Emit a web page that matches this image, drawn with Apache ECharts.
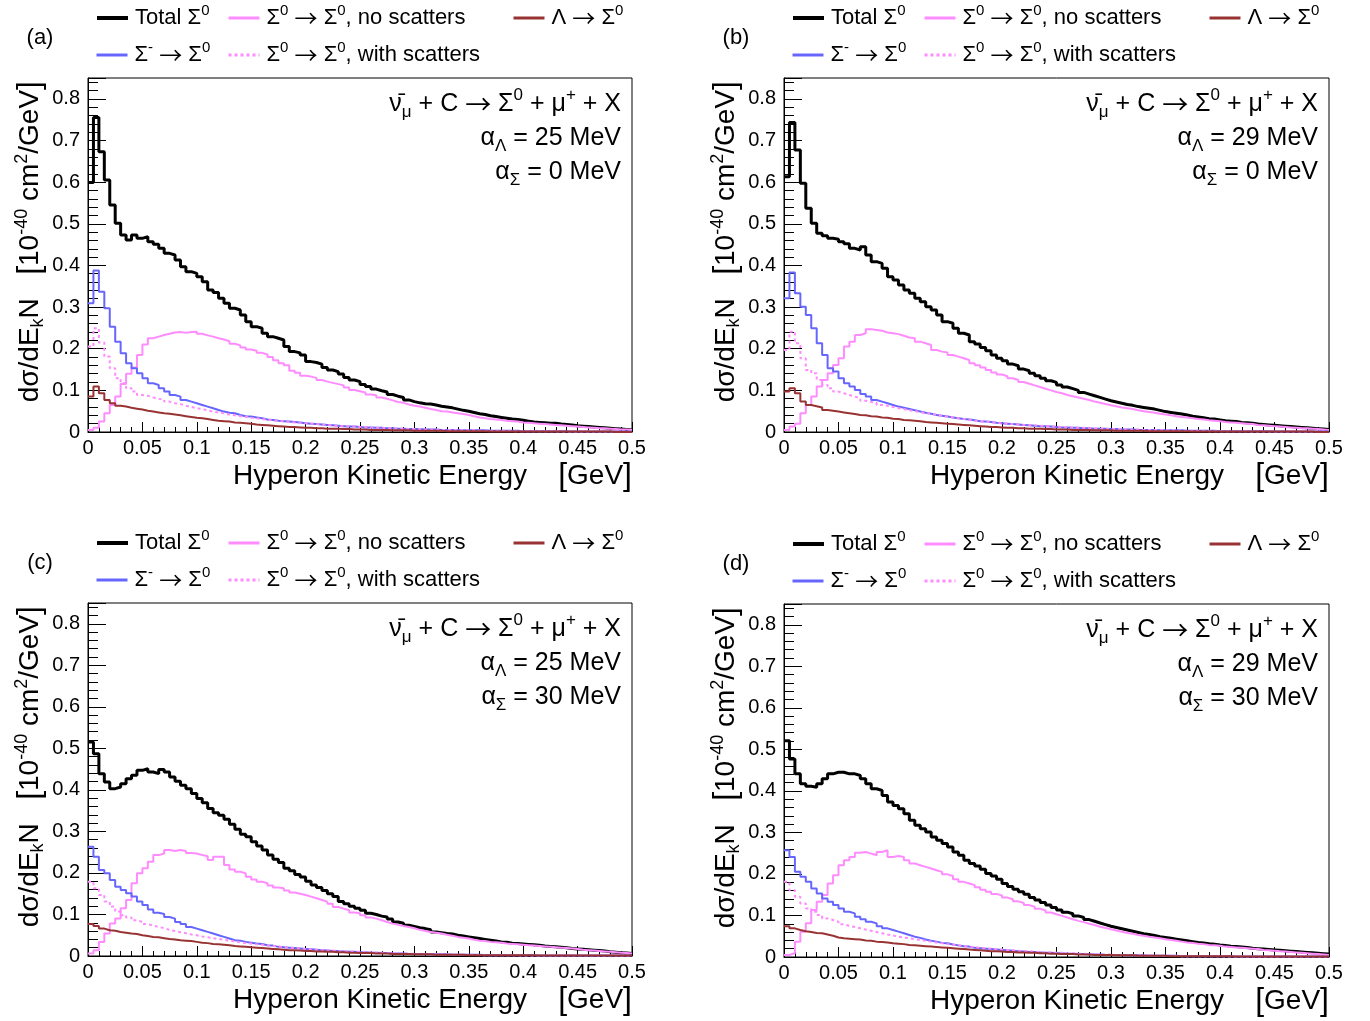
<!DOCTYPE html>
<html>
<head>
<meta charset="utf-8">
<script src="https://cdn.jsdelivr.net/npm/echarts@6/dist/echarts.min.js"></script>
<style>
html,body{margin:0;padding:0;background:#ffffff;}
#chart{width:1370px;height:1021px;}
</style>
</head>
<body>
<div id="chart"></div>
<script>
// ---------------- DATA (histograms: 100 bins from 0 to 0.5 GeV) ----------------
const BIN_WIDTH = 0.005;
const panelLetters = ['a', 'b', 'c', 'd'];
const alphaLambda = [25, 29, 25, 29];
const alphaSigma = [0, 0, 30, 30];
const seriesNames = ['Total Σ0', 'Σ0 → Σ0, no scatters', 'Λ → Σ0', 'Σ- → Σ0', 'Σ0 → Σ0, with scatters'];

// Panel (a)
const A_total = [
0.599,0.755,0.673,0.605,0.545,0.501,0.473,0.461,0.473,0.465,
0.469,0.457,0.451,0.441,0.429,0.425,0.413,0.397,0.385,0.381,
0.373,0.361,0.341,0.335,0.321,0.309,0.297,0.293,0.281,0.265,
0.253,0.249,0.237,0.229,0.225,0.221,0.205,0.193,0.190,0.185,
0.169,0.167,0.163,0.155,0.149,0.145,0.139,0.131,0.125,0.121,
0.114,0.109,0.103,0.099,0.096,0.090,0.086,0.083,0.077,0.073,
0.070,0.068,0.067,0.065,0.062,0.060,0.058,0.055,0.052,0.050,
0.047,0.044,0.042,0.039,0.037,0.035,0.033,0.031,0.030,0.028,
0.026,0.024,0.023,0.022,0.021,0.021,0.019,0.018,0.017,0.015,
0.014,0.013,0.012,0.011,0.010,0.009,0.008,0.007,0.006,0.005];
const A_noScatter = [
0.005,0.010,0.025,0.045,0.065,0.085,0.115,0.140,0.155,0.185,
0.210,0.225,0.229,0.233,0.236,0.239,0.240,0.238,0.240,0.241,
0.236,0.232,0.229,0.225,0.222,0.218,0.212,0.208,0.203,0.198,
0.195,0.190,0.186,0.180,0.172,0.165,0.160,0.147,0.142,0.135,
0.133,0.130,0.125,0.121,0.118,0.115,0.112,0.107,0.101,0.098,
0.095,0.090,0.088,0.083,0.080,0.076,0.072,0.070,0.066,0.063,
0.061,0.058,0.055,0.053,0.050,0.049,0.047,0.045,0.043,0.041,
0.038,0.035,0.033,0.031,0.030,0.029,0.027,0.026,0.025,0.023,
0.022,0.021,0.020,0.019,0.018,0.017,0.016,0.015,0.014,0.013,
0.012,0.011,0.010,0.009,0.009,0.008,0.007,0.006,0.006,0.005];
const A_lambda = [
0.085,0.109,0.093,0.077,0.069,0.063,0.061,0.058,0.056,0.054,
0.051,0.049,0.047,0.045,0.044,0.042,0.040,0.038,0.036,0.034,
0.033,0.031,0.029,0.027,0.026,0.025,0.023,0.022,0.021,0.020,
0.018,0.017,0.016,0.015,0.014,0.013,0.012,0.012,0.011,0.010,
0.010,0.009,0.009,0.008,0.008,0.008,0.007,0.007,0.006,0.006,
0.006,0.005,0.005,0.005,0.005,0.004,0.004,0.004,0.004,0.003,
0.003,0.003,0.003,0.003,0.003,0.002,0.002,0.002,0.002,0.002,
0.002,0.002,0.002,0.001,0.001,0.001,0.001,0.001,0.001,0.001,
0.001,0.001,0.001,0.001,0.001,0.001,0.001,0.001,0.001,0.001,
0.001,0.001,0.001,0.001,0.001,0.001,0.000,0.000,0.000,0.000];
const A_sigmaMinus = [
0.309,0.388,0.337,0.297,0.253,0.217,0.189,0.165,0.153,0.141,
0.129,0.117,0.113,0.105,0.097,0.089,0.085,0.077,0.073,0.069,
0.065,0.061,0.057,0.053,0.049,0.046,0.045,0.041,0.038,0.037,
0.035,0.033,0.030,0.029,0.027,0.026,0.025,0.024,0.023,0.021,
0.020,0.019,0.018,0.017,0.016,0.015,0.014,0.013,0.013,0.012,
0.011,0.011,0.010,0.010,0.009,0.009,0.008,0.008,0.007,0.007,
0.007,0.006,0.006,0.006,0.005,0.005,0.005,0.005,0.004,0.004,
0.004,0.004,0.004,0.003,0.003,0.003,0.003,0.003,0.003,0.002,
0.002,0.002,0.002,0.002,0.002,0.002,0.002,0.002,0.001,0.001,
0.001,0.001,0.001,0.001,0.001,0.001,0.001,0.001,0.001,0.001];
const A_withScatter = [
0.205,0.249,0.215,0.181,0.153,0.129,0.117,0.105,0.097,0.089,
0.087,0.083,0.080,0.078,0.073,0.069,0.067,0.063,0.060,0.057,
0.055,0.052,0.049,0.047,0.045,0.042,0.040,0.038,0.036,0.034,
0.033,0.031,0.030,0.028,0.027,0.026,0.024,0.023,0.022,0.021,
0.020,0.019,0.018,0.017,0.016,0.015,0.014,0.014,0.013,0.012,
0.012,0.011,0.010,0.010,0.009,0.009,0.008,0.008,0.007,0.007,
0.007,0.006,0.006,0.006,0.005,0.005,0.005,0.004,0.004,0.004,
0.004,0.003,0.003,0.003,0.003,0.003,0.003,0.002,0.002,0.002,
0.002,0.002,0.002,0.002,0.002,0.002,0.001,0.001,0.001,0.001,
0.001,0.001,0.001,0.001,0.001,0.001,0.001,0.001,0.001,0.001];

// Panel (b)
const B_total = [
0.613,0.743,0.677,0.597,0.537,0.501,0.477,0.471,0.465,0.463,
0.457,0.452,0.441,0.437,0.445,0.425,0.409,0.405,0.393,0.373,
0.365,0.353,0.341,0.333,0.321,0.313,0.301,0.293,0.281,0.265,
0.261,0.249,0.237,0.233,0.217,0.211,0.203,0.195,0.185,0.177,
0.171,0.163,0.159,0.151,0.147,0.141,0.135,0.129,0.123,0.119,
0.113,0.108,0.104,0.100,0.095,0.091,0.087,0.083,0.079,0.075,
0.072,0.069,0.066,0.064,0.061,0.059,0.057,0.055,0.052,0.049,
0.047,0.045,0.043,0.041,0.038,0.036,0.034,0.032,0.031,0.029,
0.027,0.026,0.025,0.023,0.022,0.021,0.019,0.018,0.017,0.016,
0.015,0.014,0.013,0.012,0.011,0.010,0.009,0.008,0.007,0.006];
const B_noScatter = [
0.005,0.013,0.020,0.045,0.065,0.085,0.109,0.125,0.141,0.161,
0.177,0.205,0.217,0.233,0.237,0.247,0.245,0.243,0.239,0.237,
0.235,0.231,0.227,0.225,0.217,0.213,0.209,0.197,0.193,0.191,
0.185,0.181,0.177,0.173,0.165,0.160,0.155,0.149,0.143,0.138,
0.134,0.129,0.125,0.120,0.116,0.112,0.108,0.104,0.100,0.096,
0.093,0.089,0.086,0.083,0.080,0.077,0.073,0.070,0.067,0.064,
0.062,0.059,0.057,0.055,0.052,0.050,0.048,0.046,0.044,0.042,
0.040,0.038,0.036,0.035,0.033,0.031,0.030,0.028,0.027,0.026,
0.024,0.023,0.022,0.021,0.020,0.019,0.017,0.016,0.015,0.014,
0.013,0.012,0.011,0.010,0.009,0.009,0.008,0.007,0.006,0.005];
const B_lambda = [
0.097,0.105,0.093,0.073,0.065,0.062,0.059,0.053,0.051,0.049,
0.047,0.045,0.043,0.041,0.040,0.038,0.037,0.035,0.034,0.032,
0.031,0.029,0.028,0.027,0.026,0.024,0.023,0.022,0.021,0.020,
0.019,0.018,0.017,0.016,0.015,0.014,0.013,0.012,0.012,0.011,
0.010,0.010,0.009,0.009,0.008,0.008,0.008,0.007,0.007,0.006,
0.006,0.006,0.005,0.005,0.005,0.005,0.004,0.004,0.004,0.004,
0.003,0.003,0.003,0.003,0.003,0.003,0.002,0.002,0.002,0.002,
0.002,0.002,0.002,0.002,0.001,0.001,0.001,0.001,0.001,0.001,
0.001,0.001,0.001,0.001,0.001,0.001,0.001,0.001,0.001,0.001,
0.001,0.001,0.001,0.001,0.001,0.001,0.001,0.000,0.000,0.000];
const B_sigmaMinus = [
0.321,0.383,0.333,0.301,0.281,0.249,0.213,0.185,0.153,0.145,
0.129,0.117,0.109,0.101,0.091,0.085,0.077,0.073,0.069,0.065,
0.061,0.058,0.055,0.052,0.049,0.046,0.044,0.041,0.039,0.037,
0.035,0.033,0.031,0.030,0.028,0.026,0.025,0.024,0.022,0.021,
0.020,0.019,0.018,0.017,0.016,0.015,0.014,0.014,0.013,0.012,
0.011,0.011,0.010,0.010,0.009,0.009,0.008,0.008,0.008,0.007,
0.007,0.006,0.006,0.006,0.005,0.005,0.005,0.005,0.004,0.004,
0.004,0.004,0.004,0.003,0.003,0.003,0.003,0.003,0.003,0.002,
0.002,0.002,0.002,0.002,0.002,0.002,0.002,0.002,0.002,0.001,
0.001,0.001,0.001,0.001,0.001,0.001,0.001,0.001,0.001,0.001];
const B_withScatter = [
0.197,0.241,0.213,0.177,0.149,0.141,0.125,0.113,0.105,0.097,
0.093,0.089,0.085,0.081,0.075,0.072,0.070,0.065,0.063,0.060,
0.057,0.055,0.052,0.050,0.048,0.045,0.044,0.041,0.039,0.037,
0.035,0.033,0.031,0.029,0.027,0.026,0.025,0.024,0.022,0.021,
0.020,0.019,0.018,0.017,0.016,0.016,0.015,0.014,0.013,0.013,
0.012,0.011,0.011,0.010,0.010,0.009,0.009,0.008,0.008,0.007,
0.007,0.007,0.006,0.006,0.006,0.005,0.005,0.005,0.004,0.004,
0.004,0.004,0.003,0.003,0.003,0.003,0.003,0.002,0.002,0.002,
0.002,0.002,0.002,0.002,0.002,0.001,0.001,0.001,0.001,0.001,
0.001,0.001,0.001,0.001,0.001,0.001,0.001,0.001,0.001,0.001];

// Panel (c)
const C_total = [
0.515,0.487,0.439,0.419,0.403,0.407,0.415,0.427,0.435,0.447,
0.451,0.443,0.439,0.449,0.443,0.431,0.421,0.411,0.403,0.391,
0.379,0.369,0.355,0.345,0.339,0.329,0.317,0.305,0.293,0.287,
0.275,0.265,0.255,0.243,0.233,0.225,0.211,0.205,0.196,0.190,
0.180,0.171,0.165,0.158,0.150,0.143,0.131,0.126,0.120,0.115,
0.110,0.103,0.100,0.096,0.094,0.089,0.082,0.079,0.074,0.071,
0.068,0.066,0.063,0.058,0.056,0.054,0.053,0.050,0.048,0.046,
0.044,0.042,0.040,0.038,0.036,0.034,0.033,0.031,0.030,0.029,
0.028,0.027,0.026,0.024,0.023,0.022,0.021,0.020,0.018,0.017,
0.016,0.015,0.014,0.013,0.012,0.010,0.009,0.008,0.007,0.006];
const C_noScatter = [
0.006,0.014,0.034,0.054,0.078,0.090,0.115,0.135,0.175,0.199,
0.211,0.227,0.243,0.247,0.255,0.253,0.255,0.253,0.248,0.247,
0.243,0.240,0.231,0.239,0.239,0.219,0.208,0.203,0.199,0.191,
0.184,0.179,0.175,0.170,0.165,0.163,0.158,0.153,0.150,0.147,
0.143,0.139,0.135,0.131,0.126,0.118,0.114,0.110,0.105,0.103,
0.098,0.093,0.090,0.086,0.082,0.078,0.075,0.072,0.070,0.067,
0.063,0.060,0.058,0.056,0.054,0.051,0.049,0.046,0.044,0.042,
0.039,0.037,0.036,0.034,0.033,0.032,0.030,0.029,0.028,0.027,
0.026,0.025,0.024,0.023,0.022,0.021,0.020,0.019,0.018,0.017,
0.015,0.014,0.013,0.012,0.011,0.010,0.009,0.008,0.007,0.006];
const C_lambda = [
0.077,0.072,0.066,0.062,0.061,0.058,0.056,0.054,0.053,0.050,
0.048,0.046,0.045,0.043,0.041,0.040,0.038,0.037,0.036,0.034,
0.032,0.031,0.029,0.028,0.027,0.026,0.024,0.023,0.022,0.021,
0.020,0.019,0.018,0.017,0.016,0.015,0.014,0.014,0.013,0.012,
0.012,0.011,0.011,0.010,0.010,0.009,0.009,0.008,0.008,0.007,
0.007,0.007,0.006,0.006,0.006,0.005,0.005,0.005,0.005,0.004,
0.004,0.004,0.004,0.003,0.003,0.003,0.003,0.003,0.003,0.002,
0.002,0.002,0.002,0.002,0.002,0.002,0.002,0.002,0.002,0.002,
0.002,0.002,0.001,0.001,0.001,0.001,0.001,0.001,0.001,0.001,
0.001,0.001,0.001,0.001,0.001,0.001,0.001,0.001,0.001,0.001];
const C_sigmaMinus = [
0.263,0.239,0.207,0.199,0.183,0.167,0.159,0.151,0.143,0.131,
0.123,0.112,0.104,0.101,0.094,0.090,0.082,0.077,0.070,0.066,
0.062,0.058,0.054,0.050,0.046,0.042,0.038,0.037,0.034,0.032,
0.030,0.029,0.026,0.025,0.022,0.021,0.020,0.019,0.018,0.017,
0.016,0.015,0.014,0.013,0.012,0.012,0.011,0.010,0.010,0.009,
0.009,0.008,0.008,0.007,0.007,0.006,0.006,0.006,0.005,0.005,
0.005,0.005,0.004,0.004,0.004,0.004,0.003,0.003,0.003,0.003,
0.003,0.003,0.002,0.002,0.002,0.002,0.002,0.002,0.002,0.002,
0.002,0.002,0.001,0.001,0.001,0.001,0.001,0.001,0.001,0.001,
0.001,0.001,0.001,0.001,0.001,0.001,0.001,0.001,0.001,0.001];
const C_withScatter = [
0.179,0.163,0.147,0.131,0.119,0.107,0.098,0.093,0.086,0.082,
0.077,0.073,0.070,0.067,0.063,0.060,0.057,0.055,0.052,0.050,
0.047,0.045,0.043,0.041,0.039,0.037,0.035,0.033,0.031,0.030,
0.028,0.027,0.025,0.024,0.023,0.021,0.020,0.019,0.018,0.017,
0.016,0.015,0.014,0.014,0.013,0.012,0.011,0.011,0.010,0.010,
0.009,0.009,0.008,0.008,0.007,0.007,0.006,0.006,0.006,0.005,
0.005,0.005,0.004,0.004,0.004,0.004,0.003,0.003,0.003,0.003,
0.003,0.002,0.002,0.002,0.002,0.002,0.002,0.002,0.002,0.001,
0.001,0.001,0.001,0.001,0.001,0.001,0.001,0.001,0.001,0.001,
0.001,0.001,0.001,0.001,0.001,0.001,0.001,0.001,0.001,0.001];

// Panel (d)
const D_total = [
0.521,0.477,0.441,0.417,0.411,0.409,0.417,0.429,0.441,0.445,
0.445,0.441,0.441,0.437,0.429,0.417,0.405,0.401,0.389,0.373,
0.365,0.357,0.345,0.329,0.317,0.309,0.301,0.289,0.281,0.273,
0.265,0.253,0.245,0.233,0.225,0.219,0.211,0.201,0.195,0.187,
0.177,0.170,0.163,0.157,0.151,0.143,0.137,0.131,0.125,0.119,
0.113,0.108,0.104,0.099,0.095,0.090,0.086,0.082,0.078,0.074,
0.071,0.068,0.065,0.062,0.059,0.056,0.054,0.052,0.049,0.047,
0.045,0.043,0.041,0.039,0.037,0.035,0.034,0.032,0.031,0.029,
0.028,0.026,0.025,0.024,0.023,0.021,0.020,0.019,0.018,0.017,
0.016,0.015,0.014,0.013,0.012,0.011,0.010,0.009,0.008,0.007];
const D_noScatter = [
0.005,0.009,0.037,0.061,0.081,0.113,0.133,0.149,0.177,0.197,
0.221,0.233,0.241,0.251,0.253,0.249,0.245,0.253,0.257,0.241,
0.243,0.241,0.233,0.225,0.221,0.217,0.213,0.209,0.205,0.199,
0.195,0.187,0.181,0.177,0.173,0.168,0.162,0.157,0.152,0.148,
0.143,0.139,0.134,0.130,0.125,0.121,0.116,0.112,0.107,0.103,
0.099,0.095,0.091,0.087,0.084,0.080,0.077,0.073,0.070,0.067,
0.064,0.061,0.058,0.056,0.053,0.051,0.049,0.047,0.045,0.043,
0.041,0.039,0.037,0.035,0.034,0.032,0.031,0.029,0.028,0.027,
0.025,0.024,0.023,0.022,0.021,0.020,0.019,0.017,0.016,0.015,
0.014,0.013,0.012,0.011,0.010,0.009,0.008,0.007,0.006,0.005];
const D_lambda = [
0.074,0.069,0.065,0.062,0.060,0.058,0.057,0.054,0.051,0.047,
0.045,0.044,0.043,0.042,0.040,0.039,0.037,0.036,0.035,0.033,
0.032,0.031,0.029,0.028,0.027,0.026,0.025,0.024,0.023,0.022,
0.021,0.020,0.019,0.018,0.017,0.016,0.015,0.014,0.014,0.013,
0.012,0.012,0.011,0.011,0.010,0.010,0.009,0.009,0.008,0.008,
0.007,0.007,0.007,0.006,0.006,0.006,0.005,0.005,0.005,0.005,
0.004,0.004,0.004,0.004,0.003,0.003,0.003,0.003,0.003,0.003,
0.002,0.002,0.002,0.002,0.002,0.002,0.002,0.002,0.002,0.002,
0.002,0.002,0.001,0.001,0.001,0.001,0.001,0.001,0.001,0.001,
0.001,0.001,0.001,0.001,0.001,0.001,0.001,0.001,0.001,0.001];
const D_sigmaMinus = [
0.257,0.241,0.205,0.193,0.181,0.165,0.153,0.141,0.133,0.125,
0.117,0.109,0.105,0.097,0.091,0.085,0.081,0.074,0.069,0.065,
0.061,0.057,0.053,0.049,0.046,0.042,0.039,0.037,0.034,0.033,
0.030,0.028,0.026,0.025,0.022,0.021,0.020,0.019,0.018,0.017,
0.016,0.015,0.014,0.013,0.012,0.012,0.011,0.010,0.010,0.009,
0.009,0.008,0.008,0.007,0.007,0.006,0.006,0.006,0.005,0.005,
0.005,0.005,0.004,0.004,0.004,0.004,0.003,0.003,0.003,0.003,
0.003,0.003,0.002,0.002,0.002,0.002,0.002,0.002,0.002,0.002,
0.002,0.002,0.001,0.001,0.001,0.001,0.001,0.001,0.001,0.001,
0.001,0.001,0.001,0.001,0.001,0.001,0.001,0.001,0.001,0.001];
const D_withScatter = [
0.181,0.161,0.145,0.129,0.117,0.109,0.101,0.093,0.089,0.085,
0.079,0.075,0.072,0.069,0.066,0.063,0.060,0.057,0.054,0.052,
0.049,0.047,0.045,0.043,0.041,0.039,0.037,0.035,0.033,0.031,
0.030,0.028,0.026,0.025,0.024,0.022,0.021,0.020,0.019,0.018,
0.017,0.016,0.015,0.014,0.014,0.013,0.012,0.011,0.011,0.010,
0.010,0.009,0.009,0.008,0.008,0.007,0.007,0.006,0.006,0.006,
0.005,0.005,0.005,0.004,0.004,0.004,0.004,0.003,0.003,0.003,
0.003,0.003,0.002,0.002,0.002,0.002,0.002,0.002,0.002,0.002,
0.001,0.001,0.001,0.001,0.001,0.001,0.001,0.001,0.001,0.001,
0.001,0.001,0.001,0.001,0.001,0.001,0.001,0.001,0.001,0.001];

// ---------------- LAYOUT / STYLE ----------------
const panelData = [
  [A_total, A_noScatter, A_lambda, A_sigmaMinus, A_withScatter],
  [B_total, B_noScatter, B_lambda, B_sigmaMinus, B_withScatter],
  [C_total, C_noScatter, C_lambda, C_sigmaMinus, C_withScatter],
  [D_total, D_noScatter, D_lambda, D_sigmaMinus, D_withScatter]
];
const gridBoxes = [
  {left: 88, top: 78, width: 544, height: 354},
  {left: 784, top: 78, width: 545, height: 354},
  {left: 88, top: 603, width: 544, height: 353},
  {left: 784, top: 604, width: 545, height: 353}
];
const seriesStyles = [
  {color: '#000000', width: 3, legendWidth: 4, type: 'solid', z: 3},
  {color: '#ff8cff', width: 2, legendWidth: 3, type: 'solid', z: 4},
  {color: '#993333', width: 2, legendWidth: 3, type: 'solid', z: 5},
  {color: '#6666ff', width: 2, legendWidth: 3, type: 'solid', z: 4},
  {color: '#ff8cff', width: 2, legendWidth: 3, type: [3, 3], z: 4}
];
const FONT = '"Liberation Sans", Arial, Helvetica, sans-serif';
const ARROW_FONT = '"Noto Sans CJK SC", "DejaVu Sans", sans-serif';

const legendRich = {
  'Total Σ0': '{t|Total Σ}{sup|0}',
  'Σ0 → Σ0, no scatters': '{t|Σ}{sup|0}{t| }{ar|→}{t| Σ}{sup|0}{t|, no scatters}',
  'Λ → Σ0': '{t|Λ }{ar|→}{t| Σ}{sup|0}',
  'Σ- → Σ0': '{t|Σ}{sup|-}{t| }{ar|→}{t| Σ}{sup|0}',
  'Σ0 → Σ0, with scatters': '{t|Σ}{sup|0}{t| }{ar|→}{t| Σ}{sup|0}{t|, with scatters}'
};
// legend slot offsets relative to grid (column x, row y-centre)
const legendSlots = [
  {dx: 7, dy: -60}, {dx: 139, dy: -60}, {dx: 424, dy: -60},
  {dx: 7, dy: -23}, {dx: 139, dy: -23}
];

function toSteps(vals) {
  const pts = vals.map((v, i) => [i * BIN_WIDTH, v]);
  pts.push([vals.length * BIN_WIDTH, vals[vals.length - 1]]);
  return pts;
}

const grids = [], xAxes = [], yAxes = [], series = [], legends = [], graphics = [];

const mainRich = (size, lh) => ({
  m: {fontSize: size, fontFamily: FONT, fill: '#000', lineHeight: lh},
  sup: {fontSize: Math.round(size * 0.66), fontFamily: FONT, fill: '#000', lineHeight: Math.round(size * 0.66), verticalAlign: 'top'},
  sub: {fontSize: Math.round(size * 0.66), fontFamily: FONT, fill: '#000', lineHeight: Math.round(size * 0.62), verticalAlign: 'bottom'},
  br: {fontSize: Math.round(size * 1.15), fontFamily: FONT, fill: '#000', lineHeight: lh},
  ar: {fontSize: Math.round(size * 1.05), fontFamily: ARROW_FONT, fill: '#000', lineHeight: lh}
});

gridBoxes.forEach((g, k) => {
  grids.push({left: g.left, top: g.top, width: g.width, height: g.height, show: true,
    borderColor: '#000', borderWidth: 1, backgroundColor: 'transparent', containLabel: false, outerBoundsMode: 'none'});
  xAxes.push({
    type: 'value', gridIndex: k, min: 0, max: 0.5, interval: 0.05,
    axisLine: {show: true, onZero: false, lineStyle: {color: '#000', width: 1}},
    axisTick: {show: true, inside: true, length: 10, lineStyle: {color: '#000', width: 1}},
    minorTick: {show: true, splitNumber: 5, length: 5, lineStyle: {color: '#000', width: 1}},
    splitLine: {show: false}, minorSplitLine: {show: false},
    axisLabel: {color: '#000', fontSize: 20, fontFamily: FONT, margin: 6, hideOverlap: false}
  });
  yAxes.push({
    type: 'value', gridIndex: k, min: 0, max: 0.85, interval: 0.1,
    axisLine: {show: true, onZero: false, lineStyle: {color: '#000', width: 1}},
    axisTick: {show: true, inside: true, length: 18, lineStyle: {color: '#000', width: 1}},
    minorTick: {show: true, splitNumber: 5, length: 10, lineStyle: {color: '#000', width: 1}},
    splitLine: {show: false}, minorSplitLine: {show: false},
    axisLabel: {color: '#000', fontSize: 20, fontFamily: FONT, margin: 8, showMaxLabel: false,
      formatter: v => (v > 0.81 ? '' : String(Math.round(v * 10) / 10))}
  });
  panelData[k].forEach((vals, s) => {
    const st = seriesStyles[s];
    series.push({
      type: 'line', name: seriesNames[s], xAxisIndex: k, yAxisIndex: k,
      data: toSteps(vals), step: 'end', symbol: 'none', showSymbol: false,
      silent: true, animation: false, z: st.z,
      lineStyle: {color: st.color, width: st.width, type: st.type},
      itemStyle: {color: st.color}
    });
  });
  seriesNames.forEach((nm, s) => {
    const slot = legendSlots[s];
    const st = seriesStyles[s];
    legends.push({
      show: true, data: [nm], selectedMode: false, orient: 'horizontal',
      left: g.left + slot.dx, top: g.top + slot.dy - 15, padding: 0,
      itemWidth: 31, itemHeight: 14, itemGap: 0,
      itemStyle: {opacity: 0, borderWidth: 0},
      lineStyle: {color: st.color, width: st.legendWidth, type: st.type, opacity: 1},
      formatter: name => legendRich[name],
      textStyle: {color: '#000', fontSize: 22, fontFamily: FONT, padding: [0, 0, 0, 2],
        rich: {
          t: {fontSize: 22, fontFamily: FONT, color: '#000', lineHeight: 30},
          ar: {fontSize: 23, fontFamily: ARROW_FONT, color: '#000', lineHeight: 30},
          sup: {fontSize: 15, fontFamily: FONT, color: '#000', lineHeight: 15, verticalAlign: 'top'}
        }}
    });
  });
  // panel letter
  graphics.push({type: 'text', x: g.left - 48, y: g.top - 40, silent: true,
    style: {text: '(' + panelLetters[k] + ')', font: '22px ' + FONT, fill: '#000',
      align: 'center', verticalAlign: 'middle', textAlign: 'center', textVerticalAlign: 'middle'}});
  // annotations
  const ann = [
    '{m|ν\u0304}{sub|μ}{m| + C }{ar|→}{m| Σ}{sup|0}{m| + μ}{sup|+}{m| + X}',
    '{m|α}{sub|Λ}{m| = ' + alphaLambda[k] + ' MeV}',
    '{m|α}{sub|Σ}{m| = ' + alphaSigma[k] + ' MeV}'
  ];
  ann.forEach((txt, j) => {
    graphics.push({type: 'text', x: g.left + g.width - 11, y: g.top + 26 + 34 * j, silent: true,
      style: {text: txt, rich: mainRich(25, 34), font: '25px ' + FONT, fill: '#000',
        align: 'right', verticalAlign: 'middle', textAlign: 'right', textVerticalAlign: 'middle'}});
  });
  // x axis title
  graphics.push({type: 'text', x: g.left + g.width, y: g.top + g.height + 44, silent: true,
    style: {text: '{m|Hyperon Kinetic Energy    }{br|[}{m|GeV}{br|]}', rich: mainRich(28, 34), font: '28px ' + FONT, fill: '#000',
      align: 'right', verticalAlign: 'middle', textAlign: 'right', textVerticalAlign: 'middle'}});
  // y axis title (rotated)
  graphics.push({type: 'text', x: g.left - 58, y: g.top + 3, rotation: Math.PI / 2, silent: true,
    style: {text: '{m|dσ/dE}{sub|k}{m|N   }{br|[}{m|10}{sup|-40}{m| cm}{sup|2}{m|/GeV}{br|]}', rich: mainRich(28, 34), font: '28px ' + FONT, fill: '#000',
      align: 'right', verticalAlign: 'middle', textAlign: 'right', textVerticalAlign: 'middle'}});
});

const chart = echarts.init(document.getElementById('chart'), null, {renderer: 'canvas', width: 1370, height: 1021});
chart.setOption({
  backgroundColor: '#ffffff',
  animation: false,
  textStyle: {fontFamily: FONT},
  grid: grids,
  xAxis: xAxes,
  yAxis: yAxes,
  legend: legends,
  series: series,
  graphic: graphics
});
</script>
</body>
</html>
